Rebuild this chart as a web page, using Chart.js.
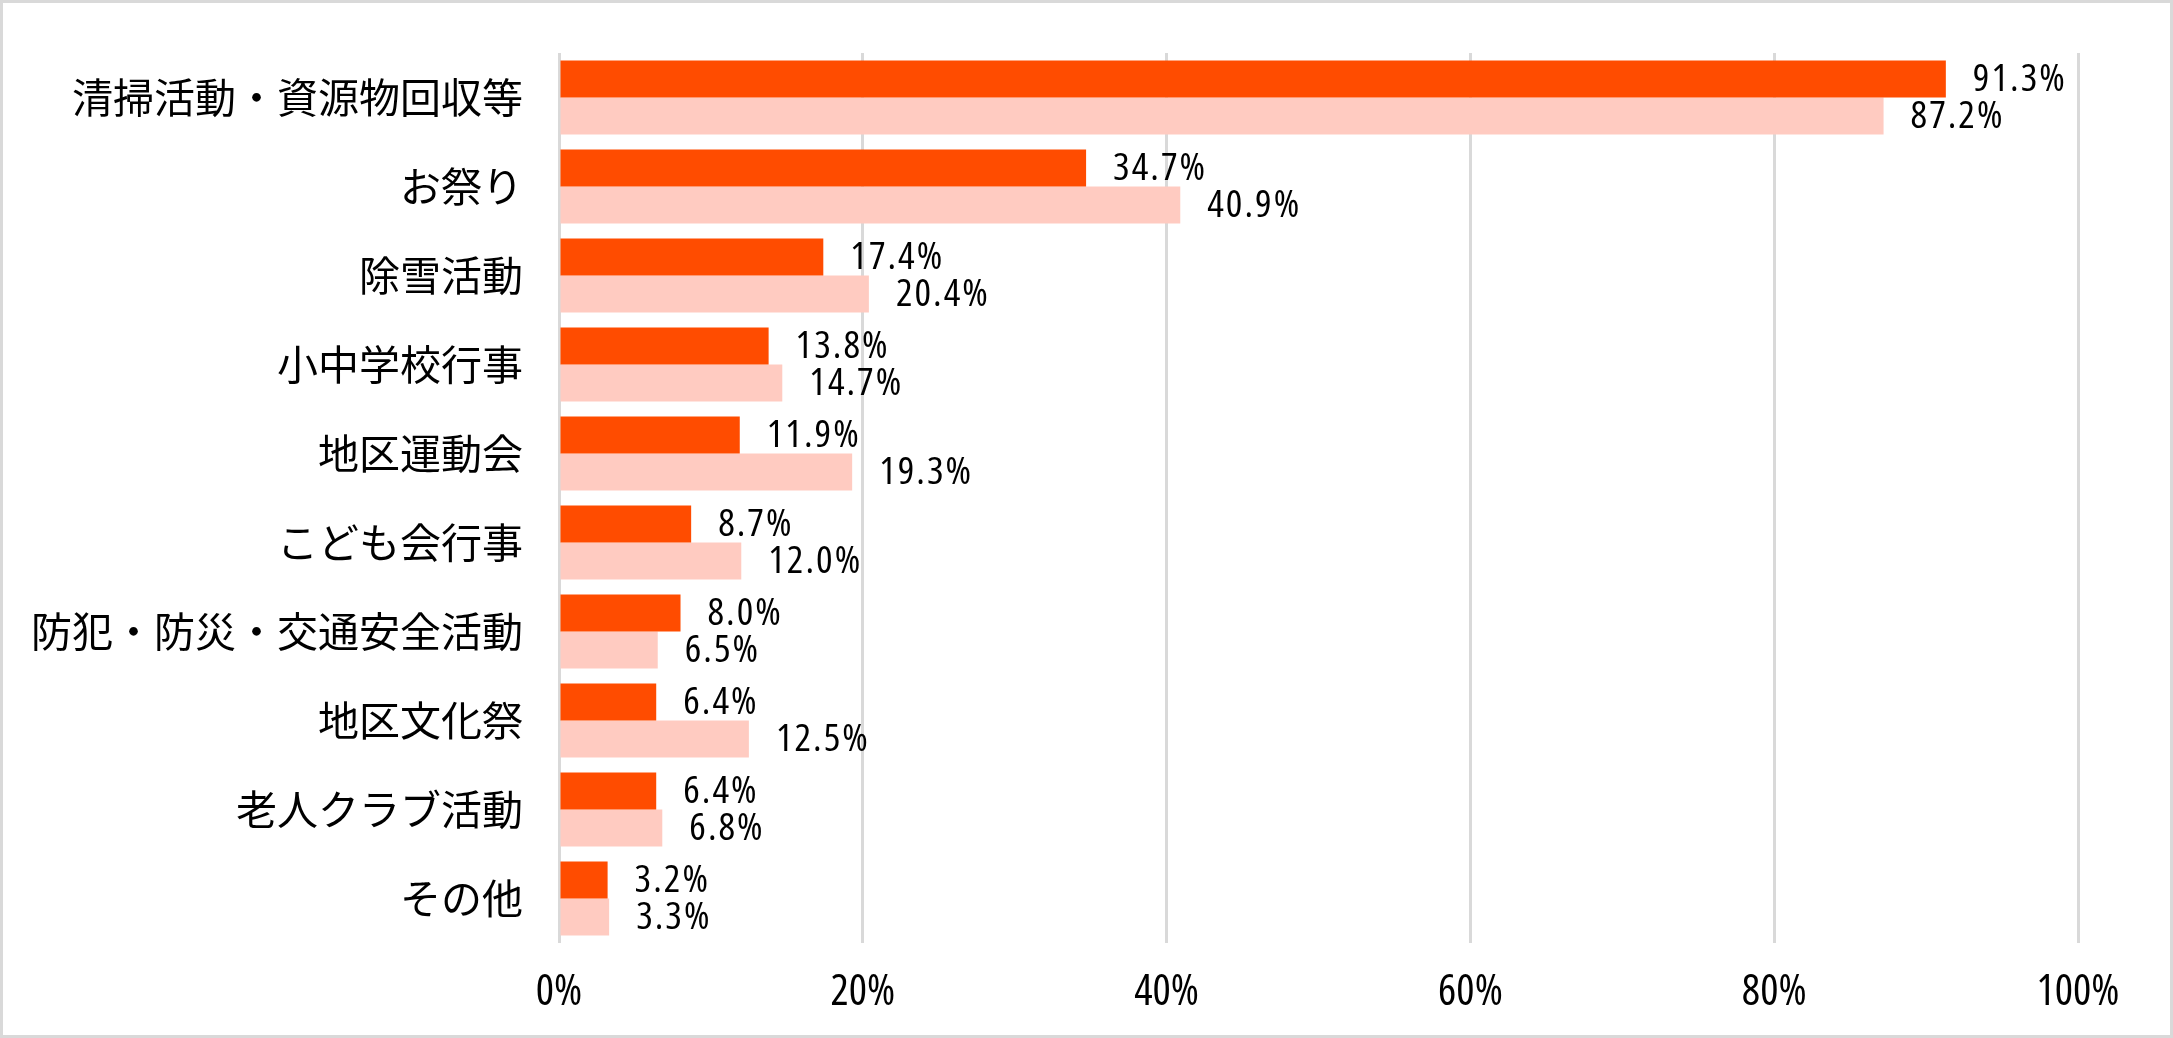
<!DOCTYPE html>
<html>
<head>
<meta charset="utf-8">
<script src="https://cdn.jsdelivr.net/npm/chart.js@4"></script>
<style>
  html, body { margin: 0; padding: 0; background: #fff; }
  #wrap { position: absolute; left: 0; top: 0; width: 2173px; height: 1038px; box-sizing: border-box; border: 3px solid #d9d9d9; }
  canvas { display: block; }
</style>
</head>
<body>
<div id="wrap"><canvas id="chart"></canvas></div>
<script>
const categories = [
  "清掃活動・資源物回収等", "お祭り", "除雪活動", "小中学校行事", "地区運動会",
  "こども会行事", "防犯・防災・交通安全活動", "地区文化祭", "老人クラブ活動", "その他"
];
const seriesA = [91.3, 34.7, 17.4, 13.8, 11.9, 8.7, 8.0, 6.4, 6.4, 3.2];
const seriesB = [87.2, 40.9, 20.4, 14.7, 19.3, 12.0, 6.5, 12.5, 6.8, 3.3];
const tickValues = [0, 20, 40, 60, 80, 100];

// Open Sans is variable, "condensed" narrows it like the original numerals
const numFont = "'Open Sans', sans-serif";
const jpFont = "'Noto Sans CJK JP', sans-serif";

// value labels at the end of each bar
const valueLabels = {
  id: "valueLabels",
  afterDatasetsDraw(chart) {
    const ctx = chart.ctx;
    ctx.save();
    ctx.font = "condensed 39px " + numFont;
    ctx.letterSpacing = "2px";
    ctx.fillStyle = "#000";
    ctx.textAlign = "left";
    ctx.textBaseline = "middle";
    chart.data.datasets.forEach((ds, i) => {
      chart.getDatasetMeta(i).data.forEach((bar, j) => {
        ctx.fillText(ds.data[j].toFixed(1) + "%", bar.x + 27, bar.y + 1);
      });
    });
    ctx.restore();
  }
};

new Chart(document.getElementById("chart"), {
  type: "bar",
  data: {
    labels: categories,
    datasets: [
      { label: "今回", data: seriesA, backgroundColor: "#ff4c00" },
      { label: "前回", data: seriesB, backgroundColor: "#ffcbc1" }
    ]
  },
  options: {
    indexAxis: "y",
    responsive: true,
    maintainAspectRatio: false,
    animation: false,
    categoryPercentage: 0.83,
    barPercentage: 1,
    layout: { padding: { top: 50, right: 92, bottom: 0, left: 0 } },
    plugins: { legend: { display: false }, tooltip: { enabled: false } },
    scales: {
      x: {
        min: 0, max: 100,
        afterBuildTicks: (s) => { s.ticks = tickValues.map((v) => ({ value: v })); },
        afterFit: (s) => { s.height = 92; },
        grid: { color: "#d9d9d9", lineWidth: 3, drawTicks: false },
        border: { display: false },
        ticks: {
          padding: 24,
          color: "#000",
          font: { family: numFont, size: 43, weight: "condensed" },
          callback: (v) => v + "%"
        }
      },
      y: {
        afterFit: (s) => { s.width = 556; s.paddingTop = 0; s.paddingBottom = 0; },
        grid: { display: false, drawTicks: false },
        border: { display: false },
        ticks: {
          padding: 36,
          color: "#000",
          font: { family: jpFont, size: 41 }
        }
      }
    }
  },
  plugins: [valueLabels]
});
</script>
</body>
</html>
